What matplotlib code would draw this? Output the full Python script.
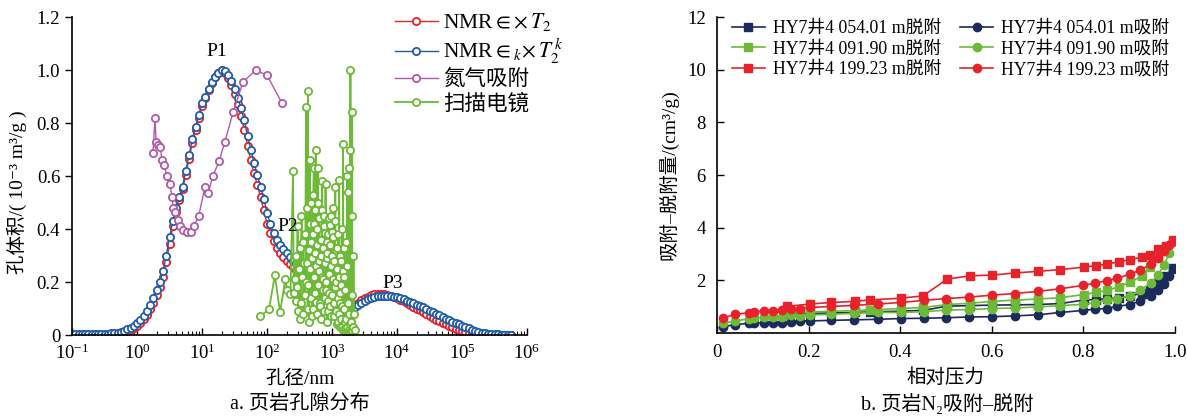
import numpy as np
import matplotlib
matplotlib.use('Agg')
from matplotlib import pyplot as plt
from matplotlib.ticker import FixedLocator, LogFormatterSciNotation, NullFormatter

plt.rcParams['font.family'] = ['Liberation Serif', 'Noto Sans CJK SC', 'DejaVu Serif']
plt.rcParams['mathtext.fontset'] = 'stix'
plt.rcParams['font.size'] = 13.5
plt.rcParams['axes.unicode_minus'] = False

# ------------------------------------------------------------
# a. pore size distribution
# NMR T2 bins: pore size (nm), 0.05 decade steps from 0.1 nm
nmr_d = 10 ** np.round(np.arange(-1, 5.76, 0.05), 2)
nmr_t2 = [0.001] * 12 + [
    0.002, 0.003, 0.004, 0.006, 0.009, 0.013, 0.018, 0.025,
    0.034, 0.045, 0.06, 0.077, 0.098, 0.122, 0.15, 0.183, 0.22, 0.275,
    0.345, 0.41, 0.465, 0.51, 0.55, 0.605, 0.665, 0.725, 0.775, 0.82,
    0.865, 0.895, 0.925, 0.952, 0.974, 0.99, 1.0, 0.99, 0.97, 0.945,
    0.91, 0.87, 0.825, 0.775, 0.715, 0.66, 0.61, 0.565, 0.52, 0.47,
    0.42, 0.385, 0.355, 0.33, 0.31, 0.295, 0.28, 0.268, 0.256, 0.245,
    0.235, 0.224, 0.212, 0.2, 0.188, 0.176, 0.164, 0.152, 0.14, 0.128,
    0.117, 0.107, 0.099, 0.094, 0.093, 0.096, 0.103, 0.112, 0.122, 0.131,
    0.139, 0.145, 0.150, 0.153, 0.155, 0.155, 0.154, 0.152, 0.148, 0.144,
    0.139, 0.133, 0.127, 0.121, 0.114, 0.107, 0.100, 0.093, 0.086, 0.079,
    0.072, 0.065, 0.058, 0.052, 0.046, 0.040, 0.034, 0.029, 0.024, 0.019,
    0.015, 0.011, 0.008, 0.005, 0.003, 0.002] + [0.001] * 10
nmr_t2k = [0.002] * 10 + [
    0.004, 0.005, 0.006, 0.007, 0.009, 0.012, 0.016, 0.021, 0.027, 0.035,
    0.045, 0.057, 0.072, 0.09, 0.112, 0.138, 0.168, 0.20, 0.24, 0.30,
    0.37, 0.43, 0.48, 0.52, 0.56, 0.62, 0.68, 0.74, 0.785, 0.83,
    0.875, 0.90, 0.93, 0.955, 0.975, 0.99, 1.0, 0.995, 0.98, 0.96,
    0.93, 0.895, 0.855, 0.81, 0.75, 0.70, 0.65, 0.605, 0.56, 0.515,
    0.46, 0.42, 0.385, 0.36, 0.34, 0.325, 0.31, 0.295, 0.28, 0.27,
    0.26, 0.248, 0.235, 0.222, 0.21, 0.197, 0.185, 0.172, 0.16, 0.148,
    0.136, 0.125, 0.115, 0.107, 0.101, 0.099, 0.101, 0.107, 0.114, 0.122,
    0.129, 0.135, 0.140, 0.144, 0.146, 0.148, 0.148, 0.148, 0.147, 0.145,
    0.143, 0.139, 0.135, 0.130, 0.125, 0.120, 0.115, 0.110, 0.104, 0.098,
    0.092, 0.086, 0.080, 0.074, 0.068, 0.062, 0.056, 0.050, 0.045, 0.040,
    0.035, 0.030, 0.025, 0.020, 0.016, 0.012, 0.009, 0.006, 0.004, 0.003,
    0.002, 0.002, 0.001, 0.001, 0.001, 0.001]

# nitrogen adsorption
n2_d = [1.76, 1.89, 1.96, 2.10, 2.26, 2.43, 2.60, 2.89, 3.20, 3.47, 3.57,
        3.84, 4.27, 4.60, 5.10, 5.90, 6.80, 7.50, 8.90, 11.1, 12.4, 14.7,
        18.2, 22.5, 30, 42.7, 67, 100, 170]
n2_v = [0.687, 0.82, 0.73, 0.717, 0.71, 0.66, 0.64, 0.60, 0.57, 0.52, 0.48,
        0.465, 0.435, 0.41, 0.395, 0.39, 0.39, 0.41, 0.45, 0.56, 0.535, 0.60,
        0.655, 0.73, 0.84, 0.955, 1.0, 0.98, 0.875]

# SEM image statistics (log10 of pore size in nm, volume)
sem_logd = [
    1.89, 2.03, 2.12, 2.20, 2.28, 2.31, 2.36, 2.40, 2.41, 2.43, 2.44, 2.45,
    2.46, 2.47, 2.48, 2.49, 2.50, 2.51, 2.52, 2.53, 2.54, 2.55, 2.56, 2.57,
    2.58, 2.59, 2.60, 2.605, 2.61, 2.62, 2.625, 2.63, 2.635, 2.64, 2.65,
    2.655, 2.66, 2.665, 2.67, 2.675, 2.68, 2.69, 2.695, 2.70, 2.705, 2.71,
    2.72, 2.725, 2.73, 2.735, 2.74, 2.745, 2.75, 2.755, 2.76, 2.765, 2.77,
    2.775, 2.78, 2.785, 2.79, 2.795, 2.80, 2.805, 2.81, 2.815, 2.82, 2.825,
    2.83, 2.835, 2.84, 2.845, 2.85, 2.855, 2.86, 2.865, 2.87, 2.875, 2.88,
    2.885, 2.89, 2.895, 2.90, 2.905, 2.91, 2.915, 2.92, 2.925, 2.93, 2.935,
    2.94, 2.945, 2.95, 2.955, 2.96, 2.965, 2.97, 2.975, 2.98, 2.985, 2.99,
    2.995, 3.00, 3.005, 3.01, 3.015, 3.02, 3.025, 3.03, 3.035, 3.04, 3.045,
    3.05, 3.055, 3.06, 3.065, 3.07, 3.075, 3.08, 3.085, 3.09, 3.095, 3.10,
    3.105, 3.11, 3.115, 3.12, 3.125, 3.13, 3.135, 3.14, 3.145, 3.15, 3.155,
    3.16, 3.165, 3.17, 3.175, 3.18, 3.185, 3.19, 3.195, 3.20, 3.205, 3.21,
    3.215, 3.22, 3.225, 3.23, 3.235, 3.24, 3.245, 3.25, 3.255, 3.26, 3.265,
    3.27, 3.275, 3.28, 3.283, 3.29, 3.295, 3.30, 3.305, 3.31, 3.312, 3.32,
    3.33, 3.34, 3.35]
sem_v = [
    0.07, 0.097, 0.225, 0.085, 0.21, 0.17, 0.155, 0.62, 0.16, 0.21, 0.30, 0.13,
    0.18, 0.41, 0.09, 0.25, 0.33, 0.06, 0.12, 0.45, 0.22, 0.35, 0.08, 0.27,
    0.15, 0.38, 0.86, 0.20, 0.27, 0.48, 0.10, 0.92, 0.19, 0.32, 0.05,
    0.42, 0.66, 0.25, 0.35, 0.14, 0.50, 0.29, 0.07, 0.38, 0.10, 0.53,
    0.63, 0.22, 0.42, 0.16, 0.47, 0.31, 0.70, 0.125, 0.26, 0.40, 0.08,
    0.34, 0.63, 0.19, 0.50, 0.28, 0.24, 0.44, 0.12, 0.36, 0.11, 0.30,
    0.36, 0.06, 0.22, 0.47, 0.58, 0.17, 0.21, 0.33, 0.09, 0.41, 0.45,
    0.14, 0.385, 0.27, 0.57, 0.20, 0.17, 0.35, 0.05, 0.29, 0.31, 0.13,
    0.09, 0.38, 0.44, 0.23, 0.16, 0.34, 0.415, 0.11, 0.26, 0.45, 0.07,
    0.30, 0.15, 0.39, 0.48, 0.21, 0.37, 0.12, 0.07, 0.28, 0.43, 0.18,
    0.56, 0.09, 0.20, 0.32, 0.04, 0.25, 0.33, 0.14, 0.05, 0.38, 0.22,
    0.08, 0.585, 0.16, 0.12, 0.30, 0.03, 0.19, 0.28, 0.06, 0.40, 0.11,
    0.03, 0.24, 0.72, 0.02, 0.10, 0.33, 0.22, 0.05, 0.02, 0.17, 0.35,
    0.01, 0.06, 0.26, 0.60, 0.03, 0.01, 0.12, 0.54, 0.02, 0.63, 0.08,
    0.04, 0.01, 0.70, 1.0, 0.01, 0.05, 0.45, 0.02, 0.84, 0.15, 0.03,
    0.30, 0.08, 0.02]
sem_d = 10 ** np.array(sem_logd)

# ------------------------------------------------------------
# b. N2 adsorption / desorption isotherms
ads_p = [0.014, 0.040, 0.070, 0.082, 0.102, 0.123, 0.143, 0.161, 0.182, 0.203,
         0.250, 0.300, 0.351, 0.402, 0.452, 0.501, 0.550, 0.601, 0.651, 0.700,
         0.750, 0.800, 0.825, 0.851, 0.874, 0.901, 0.924, 0.947, 0.964, 0.977,
         0.987, 0.995]
des_p = [0.152, 0.203, 0.250, 0.301, 0.335, 0.401, 0.450, 0.503, 0.552, 0.601,
         0.651, 0.700, 0.750, 0.801, 0.827, 0.852, 0.877, 0.903, 0.928, 0.945,
         0.963, 0.980, 0.995]
ads_4054 = [0.24, 0.32, 0.37, 0.38, 0.39, 0.39, 0.39, 0.41, 0.46, 0.46, 0.48,
            0.50, 0.52, 0.55, 0.56, 0.58, 0.61, 0.62, 0.65, 0.69, 0.78, 0.86,
            0.90, 0.93, 1.01, 1.08, 1.21, 1.39, 1.62, 1.87, 2.16, 2.42]
des_4054 = [0.72, 0.74, 0.76, 0.78, 0.80, 0.83, 0.86, 1.02, 1.04, 1.06, 1.07,
            1.08, 1.12, 1.25, 1.27, 1.30, 1.33, 1.40, 1.52, 1.65, 1.90, 2.15,
            2.46]
ads_4091 = [0.37, 0.46, 0.54, 0.56, 0.60, 0.62, 0.62, 0.68, 0.65, 0.69, 0.71,
            0.75, 0.78, 0.78, 0.81, 0.87, 0.89, 0.93, 0.95, 0.99, 1.04, 1.09,
            1.15, 1.24, 1.31, 1.40, 1.63, 1.89, 2.22, 2.60, 3.02, 3.47]
des_4091 = [0.75, 0.79, 0.83, 0.85, 0.88, 0.93, 0.97, 1.08, 1.13, 1.20, 1.25,
            1.29, 1.34, 1.46, 1.54, 1.62, 1.75, 1.94, 2.16, 2.50, 2.90, 3.25,
            3.50]
ads_4199 = [0.58, 0.71, 0.77, 0.81, 0.83, 0.84, 0.87, 0.90, 0.92, 0.97, 1.01,
            1.05, 1.10, 1.16, 1.24, 1.31, 1.36, 1.44, 1.50, 1.58, 1.68, 1.81,
            1.89, 1.99, 2.08, 2.23, 2.38, 2.61, 2.86, 3.10, 3.33, 3.50]
des_4199 = [1.01, 1.10, 1.16, 1.20, 1.26, 1.32, 1.41, 2.05, 2.17, 2.20, 2.28,
            2.34, 2.41, 2.50, 2.56, 2.62, 2.70, 2.79, 2.88, 2.98, 3.18, 3.32,
            3.53]

RED = '#e8222a'
BLUE = '#1f5cae'
PURPLE = '#b25aa9'
GREEN = '#6cba35'
NAVY = '#1c2a5c'

fig = plt.figure(figsize=(11.87, 4.16), dpi=100)
ax1 = fig.add_axes([0.0607, 0.1947, 0.3833, 0.7644])
ax2 = fig.add_axes([0.6040, 0.1995, 0.3858, 0.7596])

# ---- left panel
mk = dict(marker='o', ms=5.2, mfc='white', mew=1.3, lw=1.0)
ax1.plot(nmr_d, nmr_t2, color=RED, label=r'NMR$\in\!\times T_2$', **mk)
ax1.plot(nmr_d, nmr_t2k, color=BLUE, label=r'NMR$\in_k\!\times T_2^{\,k}$', **mk)
ax1.plot(n2_d, n2_v, color=PURPLE, label='氮气吸附', **mk)
ax1.plot(sem_d, sem_v, color=GREEN, label='扫描电镜',
         **dict(mk, lw=1.3))

ax1.set_xscale('log')
ax1.set_xlim(0.1, 1e6)
ax1.set_ylim(0, 1.2)
ax1.set_yticks([0, 0.2, 0.4, 0.6, 0.8, 1.0, 1.2])
ax1.set_yticklabels(['0', '0.2', '0.4', '0.6', '0.8', '1.0', '1.2'])
decades = [10.0 ** e for e in range(-1, 7)]
ax1.xaxis.set_major_locator(FixedLocator(decades))
ax1.xaxis.set_major_formatter(LogFormatterSciNotation())
ax1.xaxis.set_minor_locator(FixedLocator([k * d for d in decades[:-1]
                                          for k in range(2, 10)]))
ax1.xaxis.set_minor_formatter(NullFormatter())
ax1.tick_params(axis='x', which='major', direction='in', length=5, width=1.0, pad=6)
ax1.tick_params(axis='x', which='minor', direction='in', length=3, width=0.8)
ax1.tick_params(axis='y', direction='out', length=5, width=1.0)
ax1.set_xlabel('孔径/nm', fontsize=14, labelpad=5)
ax1.set_ylabel('孔体积/( 10⁻³ m³/g )', fontsize=14)
ax1.yaxis.set_label_coords(-0.1, 0.45)

ax1.text(17, 1.07, 'P1', fontsize=14, ha='center', va='center')
ax1.text(210, 0.41, 'P2', fontsize=14, ha='center', va='center')
ax1.text(8700, 0.196, 'P3', fontsize=14, ha='center', va='center')

ax1.legend(loc='upper left', bbox_to_anchor=(0.69, 1.045), frameon=False,
           fontsize=15.5, handlelength=2.0, handletextpad=0.25,
           labelspacing=0.18, borderaxespad=0.0)

# ---- right panel
sq = dict(marker='s', ms=6, lw=1.2)
ci = dict(marker='o', ms=6, lw=1.2)
ax2.plot(des_p, des_4054, color=NAVY, label='HY7井4 054.01 m脱附', **sq)
ax2.plot(des_p, des_4091, color=GREEN, label='HY7井4 091.90 m脱附', **sq)
ax2.plot(des_p, des_4199, color=RED, label='HY7井4 199.23 m脱附', **sq)
ax2.plot(ads_p, ads_4054, color=NAVY, label='HY7井4 054.01 m吸附', **ci)
ax2.plot(ads_p, ads_4091, color=GREEN, label='HY7井4 091.90 m吸附', **ci)
ax2.plot(ads_p, ads_4199, color=RED, label='HY7井4 199.23 m吸附', **ci)

ax2.set_xlim(0, 1.0)
ax2.set_ylim(0, 12)
ax2.set_xticks([0, 0.2, 0.4, 0.6, 0.8, 1.0])
ax2.set_xticklabels(['0', '0.2', '0.4', '0.6', '0.8', '1.0'])
ax2.set_yticks([2, 4, 6, 8, 10, 12])
ax2.tick_params(axis='both', direction='in', length=5, width=1.0, pad=8)
ax2.set_xlabel('相对压力', fontsize=14, labelpad=5)
ax2.set_ylabel('吸附–脱附量/(cm³/g)', fontsize=14, labelpad=6)
ax2.legend(loc='upper left', bbox_to_anchor=(0.005, 1.03), ncol=2,
           frameon=False, fontsize=12.8, handlelength=1.85,
           handletextpad=0.45, columnspacing=1.1, labelspacing=0.2,
           borderaxespad=0.3)

for ax in (ax1, ax2):
    ax.spines['top'].set_visible(False)
    ax.spines['right'].set_visible(False)
    for s in ('left', 'bottom'):
        ax.spines[s].set_linewidth(1.2)

fig.text(0.2527, 0.027, 'a. 页岩孔隙分布', fontsize=14.5, ha='center', va='center')
fig.text(0.798, 0.027, 'b. 页岩N₂吸附–脱附', fontsize=14.5, ha='center', va='center')

fig.savefig('out.png', dpi=100)
